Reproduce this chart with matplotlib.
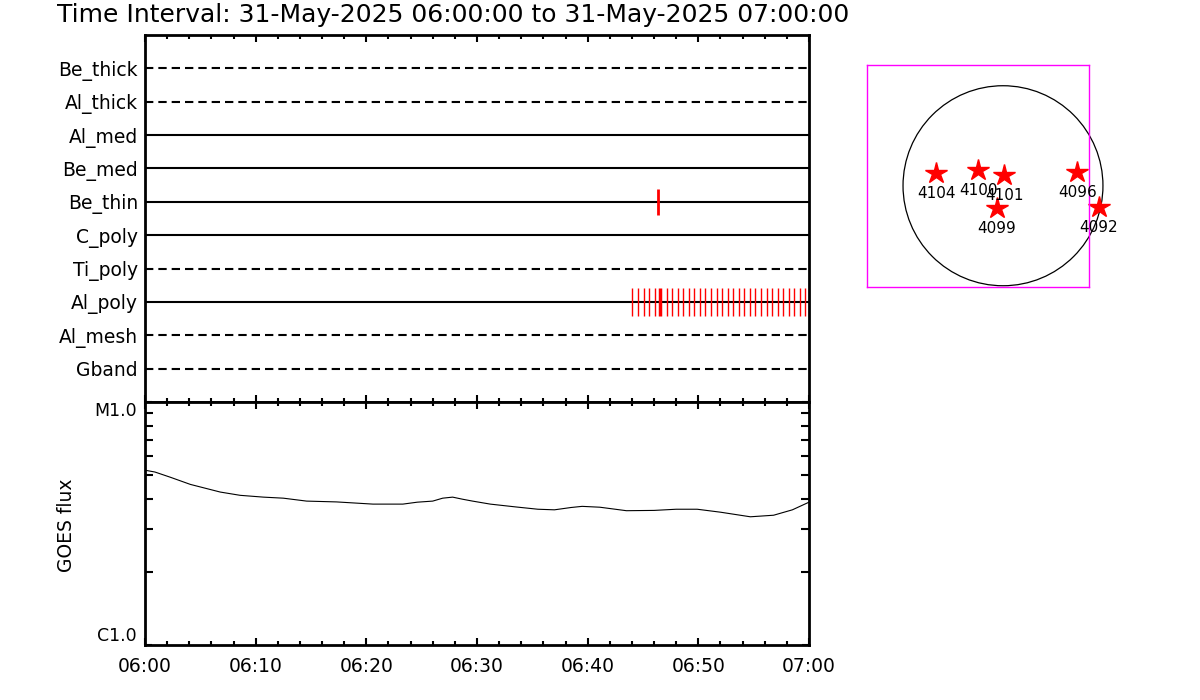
#!/usr/bin/env python3
"""Filter/attenuator timeline with GOES flux and flare location map."""

import matplotlib
matplotlib.use('Agg')
import matplotlib.pyplot as plt
from matplotlib.patches import Circle
from matplotlib.ticker import FixedLocator, NullFormatter
import numpy as np

# --- data ---
title = 'Time Interval: 31-May-2025 06:00:00 to 31-May-2025 07:00:00'
channels = ['Be_thick', 'Al_thick', 'Al_med', 'Be_med', 'Be_thin',
            'C_poly', 'Ti_poly', 'Al_poly', 'Al_mesh', 'Gband']
dashed = [True, True, False, False, False, False, True, False, True, True]

time_ticks = [0, 10, 20, 30, 40, 50, 60]          # minutes after 06:00
time_labels = ['06:00', '06:10', '06:20', '06:30', '06:40', '06:50', '07:00']

be_thin_events = [46.35]
al_poly_events = [44.03, 44.57, 45.06, 45.56, 46.11, 47.14, 47.62, 48.14,
                  48.64, 49.13, 49.64, 50.15, 50.63, 51.15, 51.66, 52.14,
                  52.65, 53.16, 53.64, 54.15, 54.66, 55.14, 55.66, 56.17,
                  56.65, 57.16, 57.67, 58.15, 58.66, 59.18, 59.66]
al_poly_strong = [46.56]

goes_t = [0, 0.9, 2.3, 4.1, 6.8, 8.6, 10.7, 12.5, 14.6, 17.3, 20.6, 23.3,
          24.6, 26.0, 26.9, 27.8, 28.7, 29.6, 31.2, 33.5, 35.5, 37.0, 38.5,
          39.5, 41.1, 43.5, 46.0, 48.0, 49.9, 52.0, 54.7, 56.8, 58.5, 60.0]
goes_flux = [5.24, 5.15, 4.90, 4.58, 4.26, 4.13, 4.06, 4.02, 3.91, 3.88,
             3.80, 3.80, 3.87, 3.91, 4.02, 4.06, 3.98, 3.91, 3.80, 3.70,
             3.62, 3.60, 3.68, 3.72, 3.69, 3.57, 3.58, 3.62, 3.62, 3.52,
             3.37, 3.42, 3.60, 3.87]  # units of 1e-6 W/m^2

ar_numbers = ['4104', '4100', '4101', '4099', '4096', '4092']
ar_x = [-643, -237, 10, -60, 713, 922]     # arcsec
ar_y = [119, 151, 103, -217, 134, -204]

plt.rcParams['font.family'] = 'DejaVu Sans'

fig = plt.figure(figsize=(12, 7), dpi=100)
fig.patch.set_facecolor('white')

fig.text(57 / 1200, 1 - 15 / 700, title, ha='left', va='center', fontsize=18)


def frame(ax):
    for s in ax.spines.values():
        s.set_linewidth(2)
    ax.tick_params(which='both', direction='in', top=True, right=True,
                   width=1.5, colors='black')
    ax.tick_params(which='major', length=5)
    ax.tick_params(which='minor', length=3)


# --- top: filter timeline ---
ax1 = fig.add_axes([145 / 1200, 1 - 402 / 700, 664 / 1200, 367 / 700])
frame(ax1)
n = len(channels)
for i, (name, d) in enumerate(zip(channels, dashed)):
    y = n - i
    ax1.axhline(y, color='black', lw=1.5,
                linestyle=(0, (4, 2.4)) if d else '-')
y_bt = n - channels.index('Be_thin')
y_ap = n - channels.index('Al_poly')
ax1.vlines(be_thin_events, y_bt - 0.39, y_bt + 0.39, color='red', lw=2)
ax1.vlines(al_poly_events, y_ap - 0.43, y_ap + 0.43, color='red', lw=1)
ax1.vlines(al_poly_strong, y_ap - 0.43, y_ap + 0.43, color='red', lw=2.5)
ax1.set_xlim(0, 60)
ax1.set_ylim(0, n + 1)
ax1.set_yticks([n - i for i in range(n)])
ax1.set_yticklabels(channels, fontsize=13.5)
ax1.tick_params(axis='y', which='both', length=0, pad=5, left=False, right=False)
ax1.set_xticks(time_ticks)
ax1.xaxis.set_minor_locator(FixedLocator(np.arange(0, 61, 2)))
ax1.set_xticklabels([])

# --- bottom: GOES flux ---
ax2 = fig.add_axes([145 / 1200, 1 - 645 / 700, 664 / 1200, 243 / 700])
frame(ax2)
ax2.plot(goes_t, np.array(goes_flux) * 1e-6, color='black', lw=0.8)
ax2.set_yscale('log')
ax2.set_ylim(1e-6, 1e-5)
ax2.set_xlim(0, 60)
ax2.set_yticks([1e-6, 1e-5])
ax2.set_yticklabels([])
ax2.yaxis.set_minor_locator(FixedLocator(np.arange(2, 10) * 1e-6))
ax2.yaxis.set_minor_formatter(NullFormatter())
ax2.tick_params(axis='y', which='minor', length=6)
ax2.set_xticks(time_ticks)
ax2.set_xticklabels(time_labels, fontsize=13.5)
ax2.xaxis.set_minor_locator(FixedLocator(np.arange(0, 61, 2)))
ax2.tick_params(axis='x', pad=9)
ax2.text(-0.012, 1.0, 'M1.0', transform=ax2.transAxes, ha='right', va='top',
         fontsize=12.5)
ax2.text(-0.012, 0.0, 'C1.0', transform=ax2.transAxes, ha='right', va='bottom',
         fontsize=12.5)
fig.text(67 / 1200, 1 - 525 / 700, 'GOES flux', rotation=90, ha='center',
         va='center', fontsize=13.5)

# --- right: flare location map ---
ax3 = fig.add_axes([867 / 1200, 1 - 287 / 700, 222 / 1200, 222 / 700])
ax3.set_xlim(-1306, 826)
ax3.set_ylim(-972, 1159)
ax3.set_xticks([])
ax3.set_yticks([])
for s in ax3.spines.values():
    s.set_color('#ff00ff')
    s.set_linewidth(1)
ax3.add_patch(Circle((0, 0), 960, fill=False, edgecolor='black', lw=0.9,
                     clip_on=False))
ax3.plot(ar_x, ar_y, linestyle='none', marker='*', markersize=16,
         color='red', clip_on=False)
for name, x, y in zip(ar_numbers, ar_x, ar_y):
    ax3.text(x, y - 195, name, ha='center', va='center', fontsize=11,
             clip_on=False)

fig.savefig('out.png', dpi=100, facecolor='white')
